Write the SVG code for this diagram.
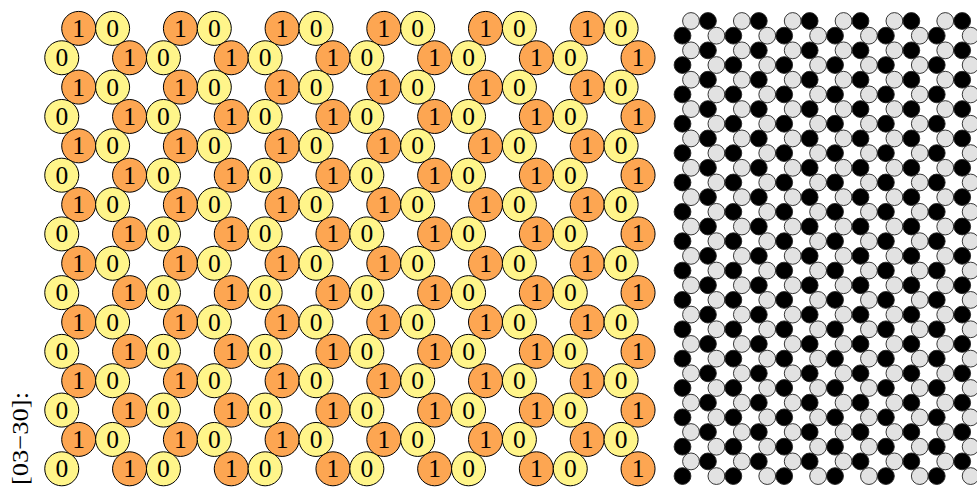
<svg xmlns="http://www.w3.org/2000/svg" xmlns:xlink="http://www.w3.org/1999/xlink" width="977" height="487" viewBox="0 0 977 487">
<style>
.o{fill:#FDA652;stroke:#000;stroke-width:1}
.y{fill:#FFF58A;stroke:#000;stroke-width:1}
.d{font-family:"Liberation Serif","DejaVu Serif",serif;font-size:25.5px;text-anchor:middle;fill:#000}
.lt{fill:#E2E2E2;stroke:#222;stroke-width:0.9}
.bk{fill:#000;stroke:#222;stroke-width:0.9}
.lab{font-family:"Liberation Serif","DejaVu Serif",serif;font-size:24px;fill:#000}
</style>
<defs>
<g id="one"><circle class="o" r="17"/><text class="d" y="8.5">1</text></g>
<g id="zero"><circle class="y" r="17"/><text class="d" y="8.5">0</text></g>
<circle id="L" class="lt" r="8.4"/>
<circle id="B" class="bk" r="8.4"/>
<g id="rowA">
<use xlink:href="#one" x="78.7"/><use xlink:href="#zero" x="112.6"/>
<use xlink:href="#one" x="180.4"/><use xlink:href="#zero" x="214.3"/>
<use xlink:href="#one" x="282.1"/><use xlink:href="#zero" x="316.0"/>
<use xlink:href="#one" x="383.8"/><use xlink:href="#zero" x="417.7"/>
<use xlink:href="#one" x="485.5"/><use xlink:href="#zero" x="519.4"/>
<use xlink:href="#one" x="587.2"/><use xlink:href="#zero" x="621.1"/>
</g>
<g id="rowB">
<use xlink:href="#zero" x="61.75"/><use xlink:href="#one" x="129.55"/>
<use xlink:href="#zero" x="163.45"/><use xlink:href="#one" x="231.25"/>
<use xlink:href="#zero" x="265.15"/><use xlink:href="#one" x="332.95"/>
<use xlink:href="#zero" x="366.85"/><use xlink:href="#one" x="434.65"/>
<use xlink:href="#zero" x="468.55"/><use xlink:href="#one" x="536.35"/>
<use xlink:href="#zero" x="570.25"/><use xlink:href="#one" x="638.05"/>
</g>
<g id="sA">
<use xlink:href="#L" x="691"/><use xlink:href="#B" x="707.95"/>
<use xlink:href="#L" x="741.85"/><use xlink:href="#B" x="758.8"/>
<use xlink:href="#L" x="792.7"/><use xlink:href="#B" x="809.65"/>
<use xlink:href="#L" x="843.55"/><use xlink:href="#B" x="860.5"/>
<use xlink:href="#L" x="894.4"/><use xlink:href="#B" x="911.35"/>
<use xlink:href="#L" x="945.25"/><use xlink:href="#B" x="962.2"/>
</g>
<g id="sB">
<use xlink:href="#B" x="682.5"/><use xlink:href="#L" x="716.4"/>
<use xlink:href="#B" x="733.35"/><use xlink:href="#L" x="767.25"/>
<use xlink:href="#B" x="784.2"/><use xlink:href="#L" x="818.1"/>
<use xlink:href="#B" x="835.05"/><use xlink:href="#L" x="868.95"/>
<use xlink:href="#B" x="885.9"/><use xlink:href="#L" x="919.8"/>
<use xlink:href="#B" x="936.75"/><use xlink:href="#L" x="970.65"/>
</g>
</defs>
<rect width="977" height="487" fill="#fff"/>
<g id="label">
<text class="lab" transform="translate(28,485) rotate(-90)" textLength="93" lengthAdjust="spacingAndGlyphs">[03−30]:</text>
</g>
<g id="left-lattice">
<use xlink:href="#rowA" y="28.4"/>
<use xlink:href="#rowB" y="57.76"/>
<use xlink:href="#rowA" y="87.12"/>
<use xlink:href="#rowB" y="116.48"/>
<use xlink:href="#rowA" y="145.84"/>
<use xlink:href="#rowB" y="175.2"/>
<use xlink:href="#rowA" y="204.56"/>
<use xlink:href="#rowB" y="233.92"/>
<use xlink:href="#rowA" y="263.28"/>
<use xlink:href="#rowB" y="292.64"/>
<use xlink:href="#rowA" y="322.0"/>
<use xlink:href="#rowB" y="351.36"/>
<use xlink:href="#rowA" y="380.72"/>
<use xlink:href="#rowB" y="410.08"/>
<use xlink:href="#rowA" y="439.44"/>
<use xlink:href="#rowB" y="468.8"/>
</g>
<g id="right-lattice">
<use xlink:href="#sA" y="21"/>
<use xlink:href="#sB" y="35.68"/>
<use xlink:href="#sA" y="50.36"/>
<use xlink:href="#sB" y="65.04"/>
<use xlink:href="#sA" y="79.72"/>
<use xlink:href="#sB" y="94.4"/>
<use xlink:href="#sA" y="109.08"/>
<use xlink:href="#sB" y="123.76"/>
<use xlink:href="#sA" y="138.44"/>
<use xlink:href="#sB" y="153.12"/>
<use xlink:href="#sA" y="167.8"/>
<use xlink:href="#sB" y="182.48"/>
<use xlink:href="#sA" y="197.16"/>
<use xlink:href="#sB" y="211.84"/>
<use xlink:href="#sA" y="226.52"/>
<use xlink:href="#sB" y="241.2"/>
<use xlink:href="#sA" y="255.88"/>
<use xlink:href="#sB" y="270.56"/>
<use xlink:href="#sA" y="285.24"/>
<use xlink:href="#sB" y="299.92"/>
<use xlink:href="#sA" y="314.6"/>
<use xlink:href="#sB" y="329.28"/>
<use xlink:href="#sA" y="343.96"/>
<use xlink:href="#sB" y="358.64"/>
<use xlink:href="#sA" y="373.32"/>
<use xlink:href="#sB" y="388.0"/>
<use xlink:href="#sA" y="402.68"/>
<use xlink:href="#sB" y="417.36"/>
<use xlink:href="#sA" y="432.04"/>
<use xlink:href="#sB" y="446.72"/>
<use xlink:href="#sA" y="461.4"/>
<use xlink:href="#sB" y="476.08"/>
</g>
</svg>
